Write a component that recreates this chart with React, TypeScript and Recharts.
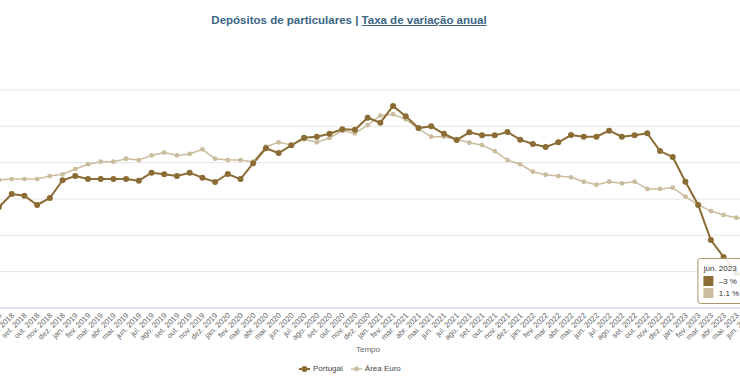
import React from "react";
import { CartesianGrid, Line, LineChart, Tooltip, XAxis, YAxis } from "recharts";

const months = [
  "jul. 2018", "ago. 2018", "set. 2018", "out. 2018", "nov. 2018", "dez. 2018",
  "jan. 2019", "fev. 2019", "mar. 2019", "abr. 2019", "mai. 2019", "jun. 2019",
  "jul. 2019", "ago. 2019", "set. 2019", "out. 2019", "nov. 2019", "dez. 2019",
  "jan. 2020", "fev. 2020", "mar. 2020", "abr. 2020", "mai. 2020", "jun. 2020",
  "jul. 2020", "ago. 2020", "set. 2020", "out. 2020", "nov. 2020", "dez. 2020",
  "jan. 2021", "fev. 2021", "mar. 2021", "abr. 2021", "mai. 2021", "jun. 2021",
  "jul. 2021", "ago. 2021", "set. 2021", "out. 2021", "nov. 2021", "dez. 2021",
  "jan. 2022", "fev. 2022", "mar. 2022", "abr. 2022", "mai. 2022", "jun. 2022",
  "jul. 2022", "ago. 2022", "set. 2022", "out. 2022", "nov. 2022", "dez. 2022",
  "jan. 2023", "fev. 2023", "mar. 2023", "abr. 2023", "mai. 2023", "jun. 2023",
];

const portugal = [
  1.95, 2.84, 2.73, 2.09, 2.57, 3.79,
  4.08, 3.87, 3.87, 3.87, 3.87, 3.76, 4.31, 4.2, 4.08, 4.31, 3.96, 3.67,
  4.22, 3.87, 4.96, 5.99, 5.66, 6.19, 6.72, 6.79, 6.99, 7.3, 7.27, 8.09,
  7.75, 8.9, 8.19, 7.38, 7.5, 6.99, 6.56, 7.09, 6.88, 6.88, 7.11, 6.58,
  6.28, 6.08, 6.4, 6.9, 6.79, 6.79, 7.2, 6.79, 6.88, 7.02, 5.8, 5.39,
  3.69, 2.09, -0.32, -1.49, -2.59, -3.0,
];

const areaEuro = [
  3.8, 3.87, 3.87, 3.87, 4.08, 4.2,
  4.56, 4.89, 5.07, 5.07, 5.27, 5.18, 5.5, 5.69, 5.5, 5.6, 5.92, 5.27,
  5.18, 5.18, 5.07, 6.1, 6.4, 6.21, 6.61, 6.4, 6.7, 7.2, 7.02, 7.59,
  8.23, 8.33, 7.98, 7.32, 6.79, 6.79, 6.61, 6.37, 6.21, 5.8, 5.18, 4.89,
  4.38, 4.17, 4.08, 3.99, 3.69, 3.48, 3.69, 3.58, 3.69, 3.19, 3.19, 3.28,
  2.66, 2.09, 1.67, 1.4, 1.21, 1.1,
];

const yTicks = [-5, -2.5, 0, 2.5, 5, 7.5, 10];

const series = [
  { key: "areaEuro", name: "Área Euro", color: "#cbbc9d", width: 1.5, r: 2.4 },
  { key: "portugal", name: "Portugal", color: "#8b6c34", width: 2, r: 3 },
];

const data = months.map((month, i) => ({
  month,
  portugal: portugal[i],
  areaEuro: areaEuro[i],
}));

const fmt = (v: number) => (v < 0 ? "–" + Math.abs(v) : String(v)) + " %";

function MonthTick({ x, y, payload }: any) {
  const ax = x + 3;
  const ay = y + 8;
  return (
    <text
      x={ax}
      y={ay}
      textAnchor="end"
      transform={`rotate(-45, ${ax}, ${ay})`}
      fontSize={7.8}
      fill="#666"
      fontFamily="Liberation Sans, Arial, sans-serif"
    >
      {payload.value}
    </text>
  );
}

function TipBox({ payload, label }: any) {
  if (!payload || !payload.length) return null;
  const rows = [...payload].reverse();
  return (
    <div
      style={{
        background: "rgba(255,255,255,0.88)",
        border: "1px solid #a8956a",
        borderRadius: 3,
        padding: "5px 4px 4px 5px",
        fontFamily: "Liberation Sans, Arial, sans-serif",
        fontSize: 8,
        color: "#333",
        width: 60,
        boxSizing: "border-box",
      }}
    >
      <div style={{ marginBottom: 2 }}>{label}</div>
      {rows.map((p: any) => (
        <div key={p.dataKey} style={{ display: "flex", alignItems: "center", height: 12 }}>
          <span style={{ width: 10, height: 10, background: p.color, marginRight: 5 }} />
          <span>{fmt(p.value)}</span>
        </div>
      ))}
    </div>
  );
}

export default function App() {
  return (
    <div
      style={{
        position: "fixed",
        left: 0,
        top: 0,
        width: 740,
        height: 389,
        overflow: "hidden",
        background: "#fff",
      }}
    >
      <div
        style={{
          position: "absolute",
          left: 349,
          top: 14,
          transform: "translateX(-50%)",
          whiteSpace: "nowrap",
          fontFamily: "Liberation Sans, Arial, sans-serif",
          fontWeight: "bold",
          fontSize: 11.5,
          color: "#3a6584",
        }}
      >
        Depósitos de particulares | <span style={{ textDecoration: "underline" }}>Taxa de variação anual</span>
      </div>

      <div style={{ position: "absolute", left: -40.7, top: 0 }}>
        <LineChart width={810} height={389} data={data} margin={{ top: 90, right: 20, bottom: 0, left: 40 }}>
          <CartesianGrid vertical={false} stroke="#e6e6e6" />
          <YAxis hide domain={[-5, 10]} ticks={yTicks} />
          <XAxis
            dataKey="month"
            interval={0}
            height={81}
            tickLine={false}
            tickSize={0}
            tickMargin={0}
            axisLine={{ stroke: "#ccd6eb" }}
            tick={<MonthTick />}
          />
          <Tooltip
            content={<TipBox />}
            defaultIndex={59}
            active
            cursor={false}
            position={{ x: 738.4, y: 258 }}
            isAnimationActive={false}
          />
          {series.map((s) => (
            <Line
              key={s.key}
              dataKey={s.key}
              name={s.name}
              stroke={s.color}
              strokeWidth={s.width}
              dot={{ r: s.r, fill: s.color, stroke: s.color, strokeWidth: 0 }}
              activeDot={{ r: s.r + 1, fill: s.color, stroke: "#fff" }}
              isAnimationActive={false}
            />
          ))}
        </LineChart>
      </div>

      <div
        style={{
          position: "absolute",
          left: 368,
          top: 345,
          transform: "translateX(-50%)",
          fontFamily: "Liberation Sans, Arial, sans-serif",
          fontSize: 8,
          color: "#666",
        }}
      >
        Tempo
      </div>

      <div
        style={{
          position: "absolute",
          left: 299,
          top: 364,
          display: "flex",
          gap: 8,
          fontFamily: "Liberation Sans, Arial, sans-serif",
          fontSize: 8,
          color: "#444",
        }}
      >
        {[...series].reverse().map((s) => (
          <div key={s.key} style={{ display: "flex", alignItems: "center" }}>
            <svg width={11} height={8} style={{ marginRight: 3 }}>
              <line x1={0} y1={4} x2={11} y2={4} stroke={s.color} strokeWidth={s.width} />
              <circle cx={5.5} cy={4} r={s.r} fill={s.color} />
            </svg>
            <span>{s.name}</span>
          </div>
        ))}
      </div>
    </div>
  );
}
